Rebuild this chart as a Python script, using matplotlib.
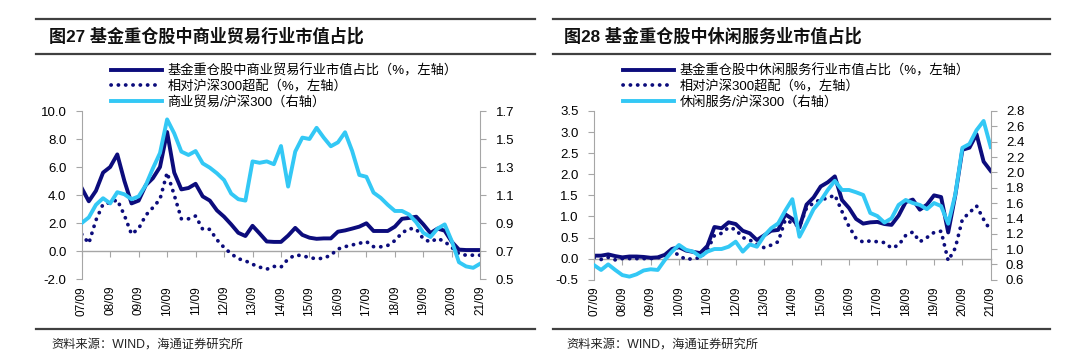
import matplotlib
matplotlib.use("Agg")
import matplotlib.pyplot as plt
from matplotlib.lines import Line2D
from matplotlib.ticker import FormatStrFormatter
import numpy as np

plt.rcParams['font.family'] = ['Liberation Sans', 'Noto Sans CJK SC']

# quarterly data, 2007Q3 .. 2021Q3
tick_labels = ["07/09", "08/09", "09/09", "10/09", "11/09", "12/09", "13/09", "14/09",
               "15/09", "16/09", "17/09", "18/09", "19/09", "20/09", "21/09"]

## 商业贸易
trade_share = [4.5, 3.55, 4.3, 5.6, 6.0, 6.9, 5.0, 3.4, 3.6, 4.7, 5.2, 6.0, 8.5, 5.6, 4.4,
               4.5, 4.8, 3.9, 3.6, 2.9, 2.45, 1.9, 1.3, 1.07, 1.8, 1.25, 0.68, 0.65, 0.65,
               1.1, 1.65, 1.15, 0.95, 0.87, 0.9, 0.9, 1.38, 1.47, 1.6, 1.74, 1.98, 1.43,
               1.43, 1.43, 1.74, 2.3, 2.36, 2.45, 1.9, 1.28, 1.6, 1.45, 0.65, 0.1, 0.07,
               0.07, 0.07]
trade_over = [1.2, 0.55, 2.2, 3.35, 3.45, 3.65, 2.55, 1.2, 1.6, 2.55, 3.1, 3.7, 5.6, 4.0,
              2.3, 2.3, 2.5, 1.55, 1.55, 0.8, 0.25, -0.2, -0.55, -0.7, -0.95, -1.15, -1.3,
              -1.1, -1.15, -0.57, -0.29, -0.33, -0.48, -0.55, -0.52, -0.29, 0.14, 0.31,
              0.43, 0.55, 0.67, 0.31, 0.3, 0.4, 0.74, 1.29, 1.6, 1.57, 0.86, 0.64, 0.9,
              0.67, 0.25, -0.2, -0.3, -0.3, -0.3]
trade_ratio = [0.9, 0.94, 1.03, 1.077, 1.04, 1.12, 1.105, 1.07, 1.09, 1.17, 1.29, 1.40,
               1.64, 1.54, 1.41, 1.386, 1.414, 1.326, 1.295, 1.255, 1.207, 1.11, 1.07,
               1.06, 1.34, 1.33, 1.34, 1.32, 1.45, 1.16, 1.41, 1.51, 1.50, 1.58, 1.51,
               1.448, 1.476, 1.548, 1.414, 1.243, 1.23, 1.117, 1.08, 1.03, 0.986, 0.986,
               0.96, 0.905, 0.83, 0.80, 0.86, 0.89, 0.77, 0.62, 0.59, 0.58, 0.61]

## 休闲服务
leisure_share = [0.07, 0.07, 0.1, 0.06, 0.03, 0.05, 0.05, 0.04, 0.02, 0.03, 0.09, 0.23,
                 0.27, 0.19, 0.16, 0.13, 0.3, 0.75, 0.72, 0.86, 0.82, 0.66, 0.6, 0.44,
                 0.55, 0.66, 0.68, 1.05, 0.94, 0.74, 1.28, 1.45, 1.71, 1.81, 1.95, 1.39,
                 1.2, 0.94, 0.83, 0.86, 0.87, 0.82, 0.8, 1.02, 1.34, 1.4, 1.16, 1.28, 1.5,
                 1.46, 0.62, 1.5, 2.58, 2.63, 2.95, 2.3, 2.08]
leisure_over = [0.02, -0.02, 0.03, -0.03, 0.0, 0.0, 0.0, 0.0, 0.0, 0.02, 0.05, 0.2, 0.07,
                -0.02, 0.0, 0.02, 0.2, 0.55, 0.6, 0.74, 0.69, 0.5, 0.44, 0.34, 0.26, 0.32,
                0.4, 0.92, 0.84, 0.76, 1.2, 1.32, 1.4, 1.43, 1.51, 1.12, 0.76, 0.48, 0.39,
                0.42, 0.4, 0.38, 0.25, 0.32, 0.55, 0.63, 0.4, 0.5, 0.62, 0.65, -0.05, 0.25,
                0.93, 1.09, 1.25, 0.93, 0.66]
leisure_ratio = [0.79, 0.727, 0.8, 0.727, 0.66, 0.64, 0.67, 0.72, 0.736, 0.727, 0.857,
                 0.966, 1.053, 0.99, 0.966, 0.90, 0.966, 1.0, 1.0, 1.03, 1.096, 0.966,
                 1.06, 1.03, 1.17, 1.27, 1.335, 1.5, 1.65, 1.16, 1.335, 1.52, 1.63, 1.77,
                 1.89, 1.77, 1.77, 1.74, 1.705, 1.47, 1.43, 1.345, 1.4, 1.575, 1.64, 1.6,
                 1.575, 1.52, 1.6, 1.56, 1.33, 1.71, 2.32, 2.37, 2.55, 2.67, 2.33]

NAVY = '#0c0c7c'
CYAN = '#33c8f5'
GRAY = '#a6a6a6'
W, H = 1080, 362


def draw_panel(rect, share, over, ratio, ylim, yticks, rlim, rticks, labels):
    x = np.arange(len(share))
    ax = fig.add_axes(rect)
    ax.plot(x, over, color=NAVY, lw=2.7, linestyle=(0, (0.05, 1.9)),
            dash_capstyle='round', label=labels[1])
    ax.plot(x, share, color=NAVY, lw=2.8, label=labels[0])
    ax.set_xlim(0, len(share) - 1)
    ax.set_ylim(*ylim)
    ax.set_yticks(yticks)
    ax.yaxis.set_major_formatter(FormatStrFormatter('%.1f'))
    ax.set_xticks(np.arange(0, len(share), 4), tick_labels, rotation=90)
    ax.tick_params(axis='x', length=0, pad=5, labelsize=8.5)
    ax.tick_params(axis='y', length=4, color=GRAY, pad=7, labelsize=9.5)
    for s in ['top', 'bottom', 'right']:
        ax.spines[s].set_visible(False)
    ax.spines['left'].set_color(GRAY)

    # x axis line crossing at zero
    zero = (0 - ylim[0]) / (ylim[1] - ylim[0])
    sec = ax.secondary_xaxis(zero)
    sec.set_xticks(np.arange(0, len(share), 4), [''] * len(tick_labels))
    sec.tick_params(length=4, color=GRAY)
    sec.spines['bottom'].set_color(GRAY)
    sec.spines['bottom'].set_linewidth(1.0)

    ax2 = ax.twinx()
    ax2.plot(x, ratio, color=CYAN, lw=2.8, label=labels[2])
    ax2.set_ylim(*rlim)
    ax2.set_yticks(rticks)
    ax2.yaxis.set_major_formatter(FormatStrFormatter('%.1f'))
    ax2.tick_params(axis='y', length=4, color=GRAY, pad=7, labelsize=9.5)
    for s in ['top', 'bottom', 'left']:
        ax2.spines[s].set_visible(False)
    ax2.spines['right'].set_color(GRAY)

    h1, l1 = ax.get_legend_handles_labels()
    h2, l2 = ax2.get_legend_handles_labels()
    handles = [h1[1], h1[0], h2[0]]
    ax2.legend(handles, labels, loc='upper left',
               bbox_to_anchor=(rect[0] + 29 / W, 1 - 64 / H),
               bbox_transform=fig.transFigure, frameon=False, fontsize=9.5,
               handlelength=3.9, handletextpad=0.4, labelspacing=0.2,
               borderpad=0, borderaxespad=0)
    return ax, ax2


fig = plt.figure(figsize=(W / 100, H / 100), dpi=100)

draw_panel([81.7 / W, 1 - 279 / H, 398.6 / W, 168 / H],
           trade_share, trade_over, trade_ratio,
           (-2, 10), np.arange(-2, 10.1, 2), (0.5, 1.7), np.arange(0.5, 1.71, 0.2),
           ['基金重仓股中商业贸易行业市值占比（%，左轴）', '相对沪深300超配（%，左轴）',
            '商业贸易/沪深300（右轴）'])
draw_panel([594 / W, 1 - 279.7 / H, 396.7 / W, 168.7 / H],
           leisure_share, leisure_over, leisure_ratio,
           (-0.5, 3.5), np.arange(-0.5, 3.51, 0.5), (0.6, 2.8), np.arange(0.6, 2.81, 0.2),
           ['基金重仓股中休闲服务行业市值占比（%，左轴）', '相对沪深300超配（%，左轴）',
            '休闲服务/沪深300（右轴）'])

# titles, rules and sources
for x0, x1, title, tx in [(36, 535, '图27 基金重仓股中商业贸易行业市值占比', 49),
                          (553, 1050, '图28 基金重仓股中休闲服务业市值占比', 564)]:
    for yy in (19, 53.5, 329):
        fig.add_artist(Line2D([x0 / W, x1 / W], [1 - yy / H, 1 - yy / H],
                              color='#404040', lw=1.6, transform=fig.transFigure))
    fig.text(tx / W, 1 - 36 / H, title, fontsize=12.3, fontweight='bold',
             va='center', ha='left', color='#111111')
    fig.text((tx + 2) / W, 1 - 345 / H, '资料来源：WIND，海通证券研究所', fontsize=8.8,
             va='center', ha='left', color='#222222')

fig.savefig('out.png', dpi=100)
